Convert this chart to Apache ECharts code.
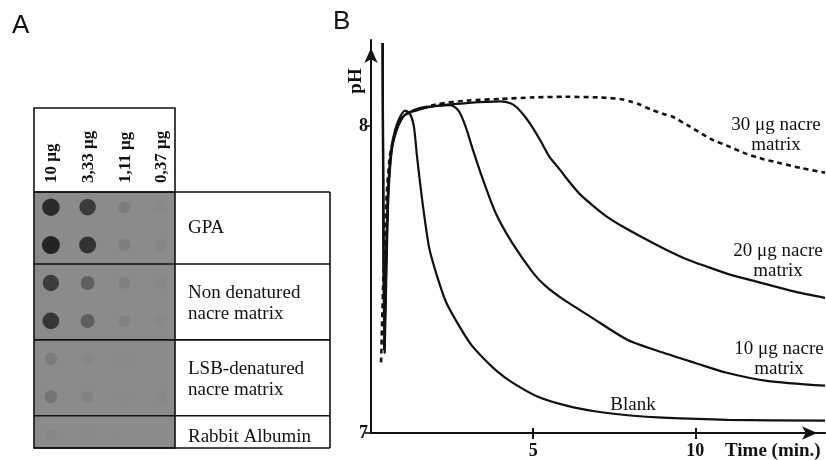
<!DOCTYPE html>
<html><head><meta charset="utf-8">
<script src="https://cdn.jsdelivr.net/npm/echarts@6/dist/echarts.min.js"></script>
<style>html,body{margin:0;padding:0;background:#fff}#c{width:826px;height:460px}</style>
</head><body><div id="c"></div>
<script>
// ---------- Panel A data (dot blot) ----------
const concentrations = ['10 μg', '3,33 μg', '1,11 μg', '0,37 μg'];
const samples = ['GPA', 'Non denatured\nnacre matrix', 'LSB-denatured\nnacre matrix', 'Rabbit Albumin'];
const laneSample = [0, 0, 1, 1, 2, 2, 3];           // sample index of each dotted lane
const laneIntensity = [                            // relative dot darkness per concentration
  [0.93, 0.78, 0.15, 0.05],
  [1.00, 0.86, 0.14, 0.08],
  [0.76, 0.42, 0.12, 0.06],
  [0.82, 0.44, 0.10, 0.05],
  [0.16, 0.07, 0.03, 0.02],
  [0.24, 0.10, 0.03, 0.05],
  [0.08, 0.03, 0.02, 0.02]
];

// ---------- Panel B data (pH vs time, min) ----------
const timeTicks = [5, 10];
const phTicks = [7, 8];
const blank = [[0.36,8.27],[0.40,7.27],[0.46,7.55],[0.52,7.78],[0.62,7.92],[0.75,7.99],[0.90,8.03],[1.05,8.05],
  [1.2,8.04],[1.32,8.0],[1.42,7.9],[1.53,7.8],[1.64,7.71],[1.8,7.6],[2.04,7.51],[2.3,7.43],[2.6,7.37],
  [3.07,7.29],[3.45,7.245],[3.9,7.2],[4.35,7.165],[5.11,7.12],[6.0,7.09],[6.95,7.07],[8.0,7.057],
  [9.0,7.05],[11.0,7.043],[14.0,7.04]];
const matrix10 = [[0.36,8.27],[0.41,7.27],[0.47,7.55],[0.53,7.78],[0.63,7.92],[0.76,7.98],[0.92,8.02],[1.1,8.04],
  [1.5,8.058],[2.0,8.065],[2.45,8.068],[2.7,8.05],[2.91,8.0],[3.12,7.93],[3.42,7.835],[3.83,7.72],[4.35,7.62],
  [5.01,7.52],[5.37,7.48],[5.93,7.435],[6.75,7.38],[7.9,7.304],[9.0,7.262],[10.0,7.228],[10.94,7.197],
  [12.2,7.17],[14.0,7.154]];
const matrix20 = [[0.36,8.27],[0.42,7.26],[0.48,7.55],[0.54,7.78],[0.64,7.92],[0.77,7.98],[0.93,8.02],[1.1,8.04],
  [2.0,8.065],[3.0,8.075],[4.0,8.08],[4.3,8.074],[4.5,8.06],[4.75,8.03],[4.95,8.0],[5.21,7.955],[5.5,7.9],
  [5.83,7.857],[6.1,7.82],[6.44,7.778],[6.85,7.74],[7.27,7.705],[7.8,7.67],[8.39,7.636],[9.1,7.597],
  [9.71,7.567],[10.33,7.543],[11.1,7.515],[11.86,7.494],[13.0,7.462],[14.0,7.44]];
const matrix30 = [[0.31,7.23],[0.38,7.5],[0.47,7.75],[0.58,7.9],[0.72,7.97],[0.9,8.02],[1.1,8.04],
  [2.0,8.07],[3.0,8.083],[4.0,8.088],[5.0,8.093],[6.0,8.095],[7.0,8.093],[7.67,8.088],[8.0,8.08],[8.28,8.07],
  [8.6,8.055],[9.0,8.04],[9.3,8.03],[9.8,8.0],[10.53,7.955],[11.0,7.935],[11.56,7.91],[12.1,7.892],
  [12.65,7.878],[13.3,7.862],[14.0,7.848]];
const curveLabels = ['30 μg nacre\nmatrix', '20 μg nacre\nmatrix', '10 μg nacre\nmatrix', 'Blank'];

// ---------- chart ----------
const serif = '"Liberation Serif", "DejaVu Serif", serif';
const ink = '#111';
const dots = [];
laneIntensity.forEach((row, r) => row.forEach((v, c) => dots.push([c, r, v])));

const chart = echarts.init(document.getElementById('c'));
const lineSeries = (name, data, dashed) => ({
  type: 'line', name, data, xAxisIndex: 1, yAxisIndex: 1, showSymbol: false, symbol: 'none',
  smooth: 0.25, clip: false, silent: true,
  lineStyle: { color: ink, width: dashed ? 2.6 : 2.2, type: dashed ? [5, 4] : 'solid' }
});

chart.setOption({
  animation: false,
  backgroundColor: '#fff',
  grid: [
    { left: 34, top: 192, width: 141, height: 256, show: true, backgroundColor: '#8b8b8b',
      borderColor: ink, borderWidth: 1.6, containLabel: false },
    { left: 371, right: 1, top: 40, bottom: 26, containLabel: false }
  ],
  xAxis: [
    { type: 'value', gridIndex: 0, min: -0.46, max: 3.38, show: false },
    { type: 'value', gridIndex: 1, min: 0, max: 14, position: 'bottom',
      axisLine: { show: true, symbol: ['none', 'arrow'], symbolSize: [10, 15], symbolOffset: [0, -8],
        lineStyle: { color: ink, width: 2 } },
      axisTick: { show: true, inside: false, length: 6, customValues: timeTicks, lineStyle: { color: ink, width: 2 } },
      axisLabel: { customValues: timeTicks, margin: 9, color: ink, fontFamily: serif, fontWeight: 'bold', fontSize: 18 },
      splitLine: { show: false } },
    { type: 'value', gridIndex: 1, min: 0, max: 14, position: 'bottom',
      axisLine: { show: false },
      axisTick: { show: true, inside: true, length: 5, customValues: timeTicks, lineStyle: { color: ink, width: 2 } },
      axisLabel: { show: false }, splitLine: { show: false } }
  ],
  yAxis: [
    { type: 'value', gridIndex: 0, inverse: true, min: -0.4, max: 6.35, show: false },
    { type: 'value', gridIndex: 1, min: 7, max: 8.28, position: 'left',
      axisLine: { show: true, symbol: ['none', 'arrow'], symbolSize: [10, 15], symbolOffset: [0, -8],
        lineStyle: { color: ink, width: 2 } },
      axisTick: { show: true, length: 6, customValues: phTicks, lineStyle: { color: ink, width: 1.6 } },
      axisLabel: { customValues: phTicks, margin: 3, color: ink, fontFamily: serif, fontWeight: 'bold', fontSize: 18 },
      splitLine: { show: false } }
  ],
  visualMap: { show: false, type: 'continuous', seriesIndex: 0, dimension: 2, min: 0, max: 1,
    inRange: { color: ['#8d8d8d', '#232323'], symbolSize: [11, 18] } },
  series: [
    { type: 'scatter', xAxisIndex: 0, yAxisIndex: 0, data: dots, symbol: 'circle', silent: true,
      itemStyle: { opacity: 1 } },
    lineSeries('30', matrix30, true),
    lineSeries('20', matrix20, false),
    lineSeries('10', matrix10, false),
    lineSeries('Blank', blank, false)
  ]
});

// ---------- decorations placed from axis positions ----------
const px = (grid, v) => chart.convertToPixel({ gridIndex: grid }, v);
const laneY = laneSample.map((s, i) => px(0, [0, i])[1]);
const gL = 34, gR = 175, gT = 192, gB = 448, boxR = 330;
const g = [];
const ln = (x1, y1, x2, y2, w) => g.push({ type: 'line', shape: { x1, y1, x2, y2 }, style: { stroke: ink, lineWidth: w || 1.6 }, silent: true, z: 50 });
const txt = (text, x, y, o) => g.push(Object.assign({ type: 'text', x, y, silent: true, z: 60,
  style: Object.assign({ text, fill: ink, font: '19px ' + serif, textAlign: 'left', textVerticalAlign: 'middle', lineHeight: 21 }, (o || {}).style || {}) },
  (o || {}).el || {}));

// header box of panel A with concentration labels (rotated, reading upward)
g.push({ type: 'rect', shape: { x: gL, y: 108, width: gR - gL, height: gT - 108 }, style: { fill: 'none', stroke: ink, lineWidth: 1.6 }, silent: true, z: 50 });
concentrations.forEach((c, i) => {
  const x = px(0, [i, 0])[0] + 1;
  txt(c, x, gT - 9, { style: { font: 'bold 17px ' + serif, textAlign: 'left' }, el: { rotation: Math.PI / 2 } });
});
// label box
ln(gR, gT, boxR, gT); ln(gL, gB, boxR, gB); ln(boxR, gT, boxR, gB);
for (let i = 0; i < laneSample.length - 1; i++) {
  if (laneSample[i] !== laneSample[i + 1]) ln(gL, (laneY[i] + laneY[i + 1]) / 2, boxR, (laneY[i] + laneY[i + 1]) / 2);
}
samples.forEach((s, k) => {
  const ys = laneY.filter((y, i) => laneSample[i] === k);
  txt(s, 188, ys.reduce((a, b) => a + b, 0) / ys.length + 2);
});
txt('A', 12, 26, { style: { font: '26px "Liberation Sans", Arial, sans-serif' } });
txt('B', 333, 22, { style: { font: '26px "Liberation Sans", Arial, sans-serif' } });
// panel B axis names
txt('pH', 356, 81, { style: { font: 'bold 19px ' + serif, textAlign: 'center' }, el: { rotation: Math.PI / 2 } });
txt('Time (min.)', 725, 451, { style: { font: 'bold 19px ' + serif } });
// curve labels
const labelPos = [[776, 125], [778, 251], [779, 349], [633, 405]];
curveLabels.forEach((t, i) => txt(t, labelPos[i][0], labelPos[i][1], { style: { textAlign: 'center', textVerticalAlign: 'top', lineHeight: 20 }, el: { y: labelPos[i][1] - 10 } }));

chart.setOption({ graphic: g });
</script>
</body></html>
